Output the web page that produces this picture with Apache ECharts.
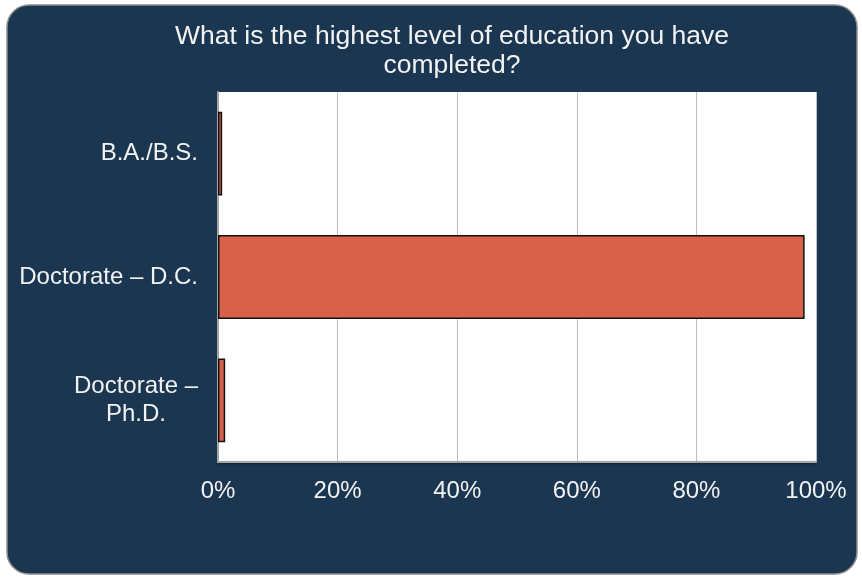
<!DOCTYPE html>
<html>
<head>
<meta charset="utf-8">
<script src="https://cdn.jsdelivr.net/npm/echarts@6/dist/echarts.min.js"></script>
<style>
html,body{margin:0;padding:0;background:#ffffff;}
#main{width:862px;height:578px;}
</style>
</head>
<body>
<div id="main"></div>
<script>
const categories = ['B.A./B.S.', 'Doctorate – D.C.', 'Doctorate – Ph.D.'];
const values = [0.7, 98.1, 1.2];
const xTicks = [0, 20, 40, 60, 80, 100];
const titleText = 'What is the highest level of education you have\ncompleted?';

const chart = echarts.init(document.getElementById('main'));
const font = 'Liberation Sans, Arial, sans-serif';
chart.setOption({
  backgroundColor: '#ffffff',
  graphic: [{
    type: 'rect', z: -10, silent: true,
    shape: {x: 7, y: 5, width: 850, height: 569, r: 22},
    style: {fill: '#1a3650', stroke: '#8c8c8c', lineWidth: 1.5}
  }, {
    type: 'text', z: 10, x: 452, y: 22,
    style: {text: titleText, fill: '#f2f2f2', fontFamily: font, fontSize: 26.5, lineHeight: 29, align: 'center', verticalAlign: 'top'}
  }],
  grid: {left: 218, right: 46, top: 92, bottom: 116, show: true, backgroundColor: '#ffffff', borderWidth: 0},
  xAxis: {
    type: 'value', min: xTicks[0], max: xTicks[xTicks.length - 1], interval: 20,
    axisLine: {show: true, lineStyle: {color: '#a6a6a6', width: 2, shadowColor: 'rgba(0,0,0,0.35)', shadowBlur: 2, shadowOffsetY: 1}},
    axisTick: {show: false},
    splitLine: {show: true, lineStyle: {color: '#bfbfbf', width: 1}},
    axisLabel: {color: '#f2f2f2', fontFamily: font, fontSize: 24, margin: 17, formatter: v => v + '%'}
  },
  yAxis: {
    type: 'category', data: categories, inverse: true,
    axisLine: {show: true, lineStyle: {color: '#a6a6a6', width: 2}},
    axisTick: {show: false},
    axisLabel: {
      color: '#f2f2f2', fontFamily: font, fontSize: 24, margin: 20,
      formatter: v => v === 'Doctorate – Ph.D.' ? '{c|Doctorate –}\n{c|Ph.D.}' : v,
      rich: {c: {width: 124, align: 'center', color: '#f2f2f2', fontFamily: font, fontSize: 24, lineHeight: 28}}
    }
  },
  series: [{
    type: 'bar', data: values, barCategoryGap: '32%',
    itemStyle: {color: '#d9614a', borderColor: '#111111', borderWidth: 1.5}
  }]
});
</script>
</body>
</html>
